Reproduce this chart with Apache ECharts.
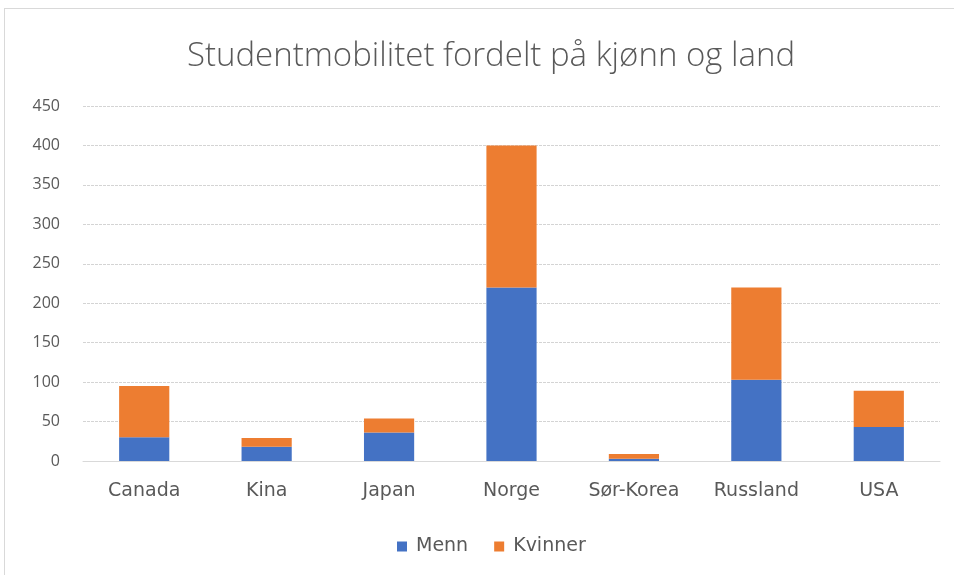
<!DOCTYPE html>
<html>
<head>
<meta charset="utf-8">
<script src="https://cdn.jsdelivr.net/npm/echarts@6/dist/echarts.min.js"></script>
<style>
  html, body { margin: 0; padding: 0; background: #fff; }
  #frame { position: absolute; left: 4px; top: 8px; width: 960px; height: 580px; border-left: 1px solid #d9d9d9; border-top: 1px solid #d9d9d9; }
  #container { position: absolute; left: 0; top: 0; width: 954px; height: 575px; }
</style>
</head>
<body>
<div id="frame"></div>
<div id="container"></div>
<script type="text/javascript">
    var land = ['Canada', 'Kina', 'Japan', 'Norge', 'Sør-Korea', 'Russland', 'USA'];
    var menn = [30, 18, 36, 220, 3, 103, 43];      // blå
    var kvinner = [65, 11, 18, 180, 6, 117, 46];   // oransje
    var yTicks = [0, 50, 100, 150, 200, 250, 300, 350, 400, 450];

    var tekst = '#595959';
    var font = '"Open Sans", "Liberation Sans", sans-serif';
    var bred = '"DejaVu Sans", sans-serif';

    var myChart = echarts.init(document.getElementById('container'));
    myChart.setOption({
        animation: false,
        title: {
            text: 'Studentmobilitet fordelt på kjønn og land',
            left: 486,
            textAlign: 'center',
            top: 35,
            textStyle: { color: tekst, fontSize: 33, fontWeight: 300, fontFamily: font }
        },
        legend: {
            bottom: 14,
            left: 392,
            itemWidth: 10,
            itemHeight: 10,
            itemGap: 26,
            icon: 'rect',
            textStyle: { color: tekst, fontSize: 19, fontFamily: bred, padding: [0, 0, 0, 4] }
        },
        grid: {
            left: 83,
            right: 14,
            top: 106,
            bottom: 114
        },
        xAxis: {
            type: 'category',
            data: land,
            axisTick: { show: false },
            axisLine: { lineStyle: { color: '#d9d9d9' } },
            axisLabel: { color: tekst, fontSize: 19, fontFamily: bred, margin: 21 }
        },
        yAxis: {
            type: 'value',
            min: yTicks[0],
            max: yTicks[yTicks.length - 1],
            interval: 50,
            axisLine: { show: false },
            axisTick: { show: false },
            axisLabel: { color: tekst, fontSize: 16, fontFamily: font, margin: 23 },
            splitLine: { lineStyle: { color: '#d4d4d4', type: [3, 1] } }
        },
        series: [
            {
                name: 'Menn',
                type: 'bar',
                stack: 'total',
                data: menn,
                barWidth: '41%',
                itemStyle: { color: '#4472c4' }
            },
            {
                name: 'Kvinner',
                type: 'bar',
                stack: 'total',
                data: kvinner,
                barWidth: '41%',
                itemStyle: { color: '#ed7d31' }
            }
        ]
    });
</script>
</body>
</html>
